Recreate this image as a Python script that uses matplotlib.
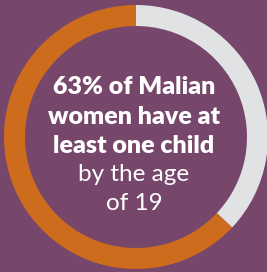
import matplotlib
matplotlib.use("Agg")
import matplotlib.pyplot as plt

# share of Malian women with at least one child by age 19
labels = ["At least one child", "No child"]
shares = [63, 37]
colors = ["#CC6C1C", "#E1E2E3"]
bg = "#77476B"

bold_lines = ["63% of Malian", "women have at", "least one child"]
light_lines = ["by the age", "of 19"]

fig = plt.figure(figsize=(2.67, 2.72), dpi=100, facecolor=bg)
ax = fig.add_axes([0, 0, 1, 1])
ax.set_facecolor(bg)

ax.pie(shares, colors=colors, startangle=90, counterclock=True,
       center=(136, 135), radius=132, frame=True,
       wedgeprops=dict(width=21, linewidth=0))
ax.set_xlim(0, 267)
ax.set_ylim(0, 272)
ax.set_aspect("equal")
ax.axis("off")

y = 272 - 87
for line in bold_lines:
    ax.text(134, y, line, ha="center", va="center", color="white",
            fontsize=18, fontweight="heavy", family="Lato")
    y -= 29.5
y += 1
for line in light_lines:
    ax.text(134, y, line, ha="center", va="center", color="white",
            fontsize=17.5, fontweight="normal", family="Lato")
    y -= 28.5

fig.savefig("out.png", dpi=100, facecolor=bg)
